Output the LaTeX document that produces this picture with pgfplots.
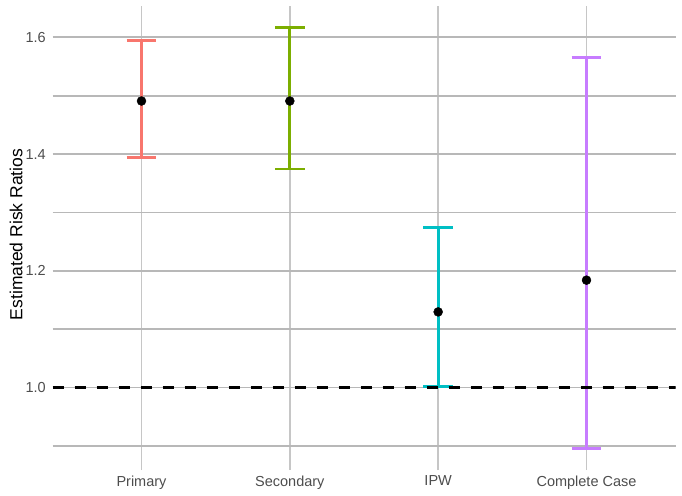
\documentclass[border=0pt]{standalone}
\usepackage{pgfplots}
\pgfplotsset{compat=1.18}
\usepackage{fontspec}
\setmainfont{Liberation Sans}
\definecolor{cP}{HTML}{F8766D}
\definecolor{cS}{HTML}{7CAE00}
\definecolor{cI}{HTML}{00BFC4}
\definecolor{cC}{HTML}{C77CFF}
\definecolor{gridmaj}{HTML}{B8B8B8}
\definecolor{gridmin}{HTML}{CECECE}
\definecolor{gridx}{HTML}{C6C6C6}
\definecolor{ticktxt}{HTML}{4D4D4D}
\begin{document}
\begin{tikzpicture}
\begin{axis}[
  at={(52.5bp,26bp)}, anchor=south west,
  scale only axis, width=623bp, height=464bp,
  xmin=0.4, xmax=4.6, ymin=0.8587, ymax=1.6538,
  axis line style={draw=none},
  major tick length=0pt, minor tick length=0pt,
  xtick={1,2,3,4},
  xticklabels={Primary,Secondary,IPW,Complete Case},
  ytick={1.0,1.2,1.4,1.6},
  minor ytick={0.9,1.1,1.3,1.5},
  grid=both,
  x grid style={draw=gridx, line width=1.8bp},
  y grid style={draw=gridmaj, line width=1.8bp},
  minor grid style={draw=gridmin, line width=1.8bp},
  /pgf/number format/assume math mode=true,
  /pgf/number format/fixed,
  /pgf/number format/fixed zerofill,
  /pgf/number format/precision=1,
  every tick label/.append style={font=\fontsize{14.5bp}{16bp}\selectfont, text=ticktxt, inner sep=0pt},
  xticklabel style={yshift=-5.5bp, anchor=north},
  yticklabel style={xshift=-6.5bp, anchor=east},
  ylabel={Estimated Risk Ratios},
  every axis y label/.style={at={([xshift=-36.5bp,yshift=3.5bp]axis description cs:0,0.5)}, rotate=90, anchor=center, font=\fontsize{17.5bp}{20bp}\selectfont},
  bar/.style={line width=2.8bp, line cap=butt, mark=none},
]
% Primary
\addplot[bar, cP] coordinates {(1,1.394) (1,1.595)};
\addplot[bar, cP] coordinates {(0.9,1.595) (1.1,1.595)};
\addplot[bar, cP] coordinates {(0.9,1.394) (1.1,1.394)};
% Secondary
\addplot[bar, cS] coordinates {(2,1.3745) (2,1.617)};
\addplot[bar, cS] coordinates {(1.9,1.617) (2.1,1.617)};
\addplot[bar, cS] coordinates {(1.9,1.3745) (2.1,1.3745)};
% IPW
\addplot[bar, cI] coordinates {(3,1.002) (3,1.274)};
\addplot[bar, cI] coordinates {(2.9,1.274) (3.1,1.274)};
\addplot[bar, cI] coordinates {(2.9,1.002) (3.1,1.002)};
% Complete Case
\addplot[bar, cC] coordinates {(4,0.8955) (4,1.566)};
\addplot[bar, cC] coordinates {(3.9,1.566) (4.1,1.566)};
\addplot[bar, cC] coordinates {(3.9,0.8955) (4.1,0.8955)};
% reference line
\addplot[black, line width=2.6bp, dash pattern=on 11bp off 11bp, mark=none]
  coordinates {(0.4,1.0) (4.6,1.0)};
% point estimates
\addplot[only marks, mark=*, mark size=4.5bp, black]
  coordinates {(1,1.491) (2,1.491) (3,1.1296) (4,1.184)};
\end{axis}
\pgfresetboundingbox
\path[use as bounding box] (0,0) rectangle (682bp,496bp);
\end{tikzpicture}
\end{document}
